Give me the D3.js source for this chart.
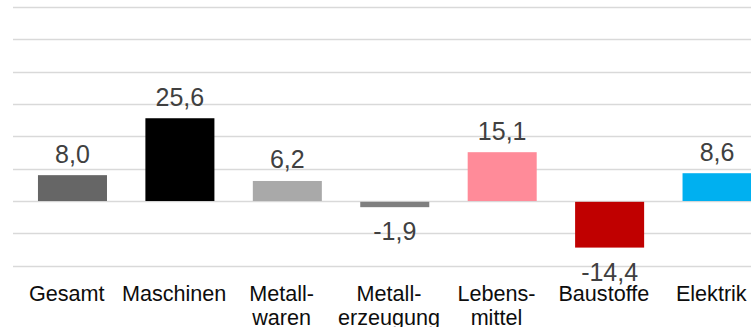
<!DOCTYPE html>
<html><head><meta charset="utf-8">
<script src="https://cdn.jsdelivr.net/npm/d3@7"></script>
<style>html,body{margin:0;padding:0;background:#fff;overflow:hidden}</style>
</head><body>
<svg id="chart" width="751" height="327"></svg>
<script>
const categories = ["Gesamt", "Maschinen", "Metall-\nwaren", "Metall-\nerzeugung", "Lebens-\nmittel", "Baustoffe", "Elektrik"];
const values = [8.0, 25.6, 6.2, -1.9, 15.1, -14.4, 8.6];
const colors = ["#666666", "#000000", "#a9a9a9", "#7f7f7f", "#ff8b99", "#c00000", "#00b0f0"];
const yTicks = [-20, -10, 0, 10, 20, 30, 40, 50, 60];

const svg = d3.select("#chart");
const font = "'Liberation Sans', Arial, sans-serif";

const y = d3.scaleLinear().domain([-20, 60]).range([265.7, 7]);
const xCat = d3.scaleBand().domain(categories).range([13, 765]).padding(0);
const xBar = d3.scaleBand().domain(categories).range([13, 765])
  .paddingInner(0.3575).paddingOuter(0.17875).align(0.65);

// gridlines
svg.append("g").selectAll("line").data(yTicks).join("line")
  .attr("x1", 13).attr("x2", 765)
  .attr("y1", d => Math.round(y(d)) + 0.5).attr("y2", d => Math.round(y(d)) + 0.5)
  .attr("stroke", "#d9d9d9").attr("stroke-width", 1.3);

// bars
svg.append("g").selectAll("rect").data(values).join("rect")
  .attr("x", (d, i) => xBar(categories[i]))
  .attr("width", xBar.bandwidth())
  .attr("y", d => y(Math.max(0, d)) + (d < 0 ? 0.8 : 0))
  .attr("height", d => Math.abs(y(d) - y(0)) - (d < 0 ? 0.8 : 0))
  .attr("fill", (d, i) => colors[i]);

// value labels
svg.append("g").selectAll("text").data(values).join("text")
  .attr("x", (d, i) => xBar(categories[i]) + xBar.bandwidth() / 2)
  .attr("y", d => d >= 0 ? y(d) - 12.5 : y(d) + 33)
  .attr("text-anchor", "middle")
  .attr("font-family", font).attr("font-size", 25)
  .attr("fill", "#404040")
  .text(d => d3.format(".1f")(d).replace(".", ",").replace("−", "-"));

// category labels
const cl = svg.append("g").selectAll("text").data(categories).join("text")
  .attr("x", d => xCat(d) + xCat.bandwidth() / 2)
  .attr("y", 301)
  .attr("text-anchor", "middle")
  .attr("font-family", font).attr("font-size", 21.6)
  .attr("fill", "#0d0d0d");
cl.each(function(d) {
  const t = d3.select(this);
  d.split("\n").forEach((line, i) => {
    t.append("tspan").attr("x", xCat(d) + xCat.bandwidth() / 2)
      .attr("dy", i === 0 ? 0 : 23.5).text(line);
  });
});
</script>
</body></html>
